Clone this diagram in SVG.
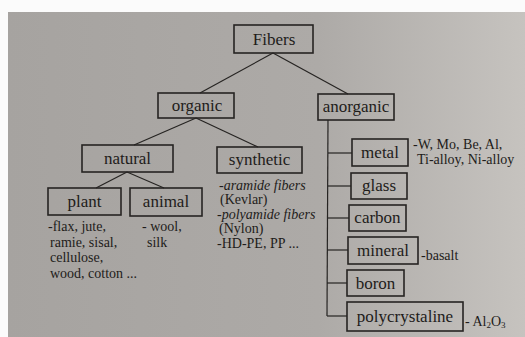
<svg xmlns="http://www.w3.org/2000/svg" width="525" height="337" viewBox="0 0 525 337">
<defs>
<linearGradient id="bg" x1="0" y1="0" x2="1" y2="0">
<stop offset="0" stop-color="#a6a3a0"/>
<stop offset="0.6" stop-color="#adaaa7"/>
<stop offset="1" stop-color="#c6c3bf"/>
</linearGradient>
<style>
.box{fill:none;stroke:#262422;stroke-width:1.6}
.lbl{font-family:"Liberation Serif","Times New Roman",serif;font-size:17px;fill:#1e1c1a;text-anchor:middle}
.txt{font-family:"Liberation Serif","Times New Roman",serif;font-size:14px;fill:#1e1c1a}
.it{font-style:italic}
.ln{stroke:#262422;stroke-width:1.2;fill:none}
</style>
</defs>
<rect width="525" height="337" fill="#fbfbfb"/>
<rect x="8" y="12" width="517" height="325" fill="url(#bg)"/>
<g id="connectors">
<line class="ln" x1="273" y1="53" x2="200" y2="93"/>
<line class="ln" x1="273" y1="53" x2="348" y2="94"/>
<line class="ln" x1="196" y1="118" x2="134" y2="145"/>
<line class="ln" x1="196" y1="118" x2="258" y2="147"/>
<line class="ln" x1="127" y1="172" x2="96" y2="188"/>
<line class="ln" x1="127" y1="172" x2="164" y2="188"/>
<line class="ln" x1="328" y1="120" x2="327" y2="316"/>
<line class="ln" x1="328" y1="153" x2="352" y2="153"/>
<line class="ln" x1="328" y1="186" x2="351" y2="186"/>
<line class="ln" x1="328" y1="218" x2="349" y2="218"/>
<line class="ln" x1="327" y1="250" x2="348" y2="250"/>
<line class="ln" x1="327" y1="283" x2="347" y2="283"/>
<line class="ln" x1="327" y1="316" x2="347" y2="316"/>
</g>
<g id="fibers"><rect class="box" x="234" y="25" width="79" height="28"/><text class="lbl" x="274" y="45" font-size="17.5">Fibers</text></g>
<g id="organic"><rect class="box" x="158" y="93" width="76" height="25"/><text class="lbl" x="197" y="111">organic</text></g>
<g id="anorganic"><rect class="box" x="318" y="94" width="76" height="26"/><text class="lbl" x="356" y="112">anorganic</text></g>
<g id="natural"><rect class="box" x="82" y="145" width="91" height="27"/><text class="lbl" x="127.5" y="164">natural</text></g>
<g id="synthetic"><rect class="box" x="217" y="147" width="85" height="26"/><text class="lbl" x="259.5" y="165">synthetic</text></g>
<g id="plant"><rect class="box" x="48" y="188" width="73" height="27"/><text class="lbl" x="84.5" y="207">plant</text></g>
<g id="animal"><rect class="box" x="130" y="188" width="72" height="28"/><text class="lbl" x="166" y="207">animal</text></g>
<g id="metal"><rect class="box" x="352" y="139" width="56" height="27"/><text class="lbl" x="380" y="158">metal</text></g>
<g id="glass"><rect class="box" x="351" y="173" width="56" height="26"/><text class="lbl" x="379" y="191">glass</text></g>
<g id="carbon"><rect class="box" x="349" y="205" width="57" height="26"/><text class="lbl" x="377.5" y="223">carbon</text></g>
<g id="mineral"><rect class="box" x="348" y="237" width="70" height="27"/><text class="lbl" x="383" y="256">mineral</text></g>
<g id="boron"><rect class="box" x="347" y="270" width="57" height="26"/><text class="lbl" x="375.5" y="289">boron</text></g>
<g id="polycrystaline"><rect class="box" x="347" y="302" width="116" height="29"/><text class="lbl" x="405" y="322">polycrystaline</text></g>
<g id="texts">
<text class="txt" x="48" y="231">-flax, jute,</text>
<text class="txt" x="50" y="247">ramie, sisal,</text>
<text class="txt" x="50" y="262">cellulose,</text>
<text class="txt" x="50" y="278">wood, cotton ...</text>
<text class="txt" x="142" y="231">- wool,</text>
<text class="txt" x="147" y="247">silk</text>
<text class="txt it" x="219" y="190" font-size="13.5">-aramide fibers</text>
<text class="txt" x="220" y="204" font-size="13.5">(Kevlar)</text>
<text class="txt it" x="217" y="218.5" font-size="13.5">-polyamide fibers</text>
<text class="txt" x="219" y="233" font-size="13.5">(Nylon)</text>
<text class="txt" x="217" y="247.5" font-size="13.5">-HD-PE, PP ...</text>
<text class="txt" x="413" y="149">-W, Mo, Be, Al,</text>
<text class="txt" x="417" y="164">Ti-alloy, Ni-alloy</text>
<text class="txt" x="421" y="260" font-size="13.5">-basalt</text>
<text class="txt" x="465" y="326">- Al<tspan font-size="9" dy="2">2</tspan><tspan dy="-2">O</tspan><tspan font-size="9" dy="2">3</tspan></text>
</g>
</svg>
